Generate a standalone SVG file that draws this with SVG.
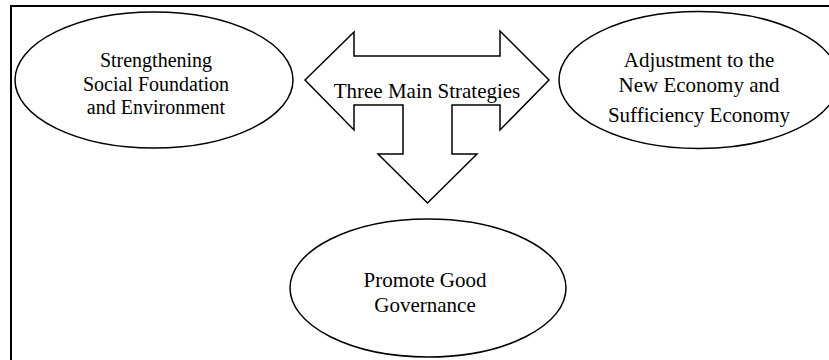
<svg xmlns="http://www.w3.org/2000/svg" width="829" height="360" viewBox="0 0 829 360">
  <style>
    .shape { fill: #ffffff; stroke: #000000; stroke-width: 1.5; }
    .frame { fill: none; stroke: #000000; stroke-width: 2; }
    .label { font-family: "Liberation Serif", "Times New Roman", serif; font-size: 20px; fill: #000000; text-anchor: middle; }
    .big { font-size: 21px; }
  </style>
  <rect width="829" height="360" fill="#ffffff"/>
  <!-- outer frame, running past the right and bottom edges -->
  <path class="frame" d="M 11 370 L 11 6 L 840 6"/>

  <g id="connectors">
    <!-- three-way block arrow: left, right and down -->
    <path class="shape" d="M 305 80 L 354 32 L 354 56 L 500 56 L 500 31 L 549 80 L 500 130 L 500 105 L 452 105 L 452 154 L 477 154 L 427.5 203 L 378 154 L 403 154 L 403 105 L 354 105 L 354 130 Z"/>
  </g>

  <g id="center-label">
    <text class="label big" x="427" y="98">Three Main Strategies</text>
  </g>

  <g id="node-social">
    <ellipse class="shape" cx="154" cy="80" rx="139" ry="68"/>
    <text class="label" x="156" y="67">Strengthening</text>
    <text class="label" x="156" y="91">Social Foundation</text>
    <text class="label" x="156" y="114">and Environment</text>
  </g>

  <g id="node-economy">
    <ellipse class="shape" cx="699" cy="80" rx="140" ry="68.5"/>
    <text class="label big" x="699" y="67">Adjustment to the</text>
    <text class="label big" x="699" y="92">New Economy and</text>
    <text class="label big" x="699" y="122">Sufficiency Economy</text>
  </g>

  <g id="node-governance">
    <ellipse class="shape" cx="428" cy="288" rx="138" ry="69"/>
    <text class="label big" x="425" y="287">Promote Good</text>
    <text class="label big" x="425" y="312">Governance</text>
  </g>
</svg>
